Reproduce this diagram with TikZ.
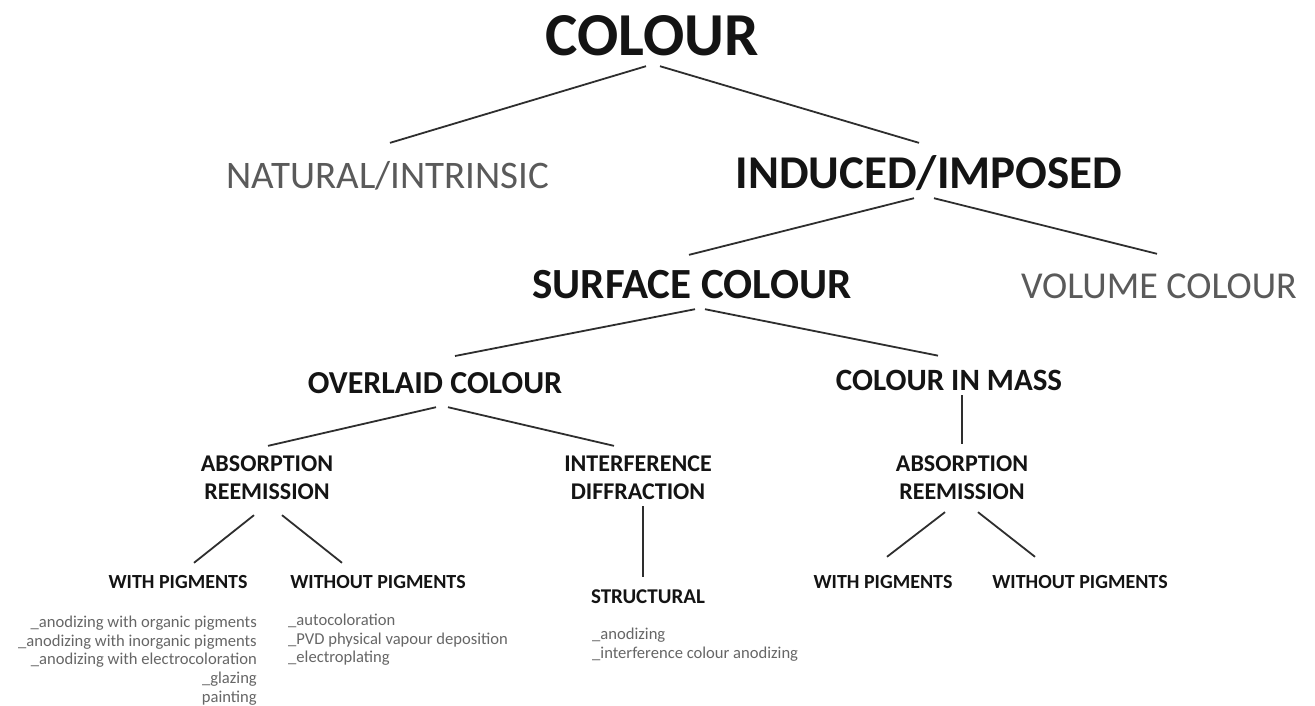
\documentclass[tikz,border=0pt]{standalone}
\usepackage{fontspec}
\setmainfont{Carlito}
\usepackage{tikz}
\usetikzlibrary{positioning}
\definecolor{inkdark}{HTML}{141414}
\definecolor{inkthin}{HTML}{5A5A5A}
\definecolor{inklist}{HTML}{666666}
\definecolor{inkline}{HTML}{2E2E2E}
\tikzset{
  treelbl/.style={inner sep=0pt,anchor=base,text=inkdark,text depth=0pt},
  boldlbl/.style={treelbl,font=\fontsize{#1}{#1}\selectfont\bfseries,text height=0.65*#1pt},
  thinlbl/.style={treelbl,font=\fontsize{#1}{#1}\selectfont,text=inkthin,text height=0.65*#1pt},
  pairlbl/.style={inner sep=0pt,align=center,text=inkdark,font=\fontsize{24}{28}\selectfont\bfseries},
  listlbl/.style={inner sep=0pt,text=inklist,font=\fontsize{16.6}{18.6}\selectfont},
  branch/.style={draw=inkline,line width=1.8pt}
}

\begin{document}
\begin{tikzpicture}[x=1pt,y=-1pt]
\useasboundingbox[fill=white] (0,0) rectangle (1315,705);
\node[boldlbl=61] (colour) at (652,55) {COLOUR};
\node[thinlbl=39] (natural) at (388,188) {NATURAL/INTRINSIC};
\node[boldlbl=47] (induced) at (929,188) {INDUCED/IMPOSED};
\node[boldlbl=43] (surface) at (692,298) {SURFACE COLOUR};
\node[thinlbl=38] (volume) at (1159,298) {VOLUME COLOUR};
\node[boldlbl=32] (overlaid) at (435,393) {OVERLAID COLOUR};
\node[boldlbl=31] (mass) at (949,390) {COLOUR IN MASS};
\node[pairlbl] (absleft) at (267,478) {ABSORPTION\\REEMISSION};
\node[pairlbl] (interf) at (638,478) {INTERFERENCE\\DIFFRACTION};
\node[pairlbl] (absright) at (962,478) {ABSORPTION\\REEMISSION};
\node[boldlbl=20] (withleft) at (178,588) {WITH PIGMENTS};
\node[boldlbl=20] (withoutleft) at (378,588) {WITHOUT PIGMENTS};
\node[boldlbl=21] (structural) at (648,603) {STRUCTURAL};
\node[boldlbl=20] (withright) at (883,588) {WITH PIGMENTS};
\node[boldlbl=20] (withoutright) at (1080,588) {WITHOUT PIGMENTS};
% lists under the leaves
\node[listlbl,align=right,anchor=north east] (listwith) at (257,616)
  {\_anodizing with organic pigments\\\_anodizing with inorganic pigments\\\_anodizing with electrocoloration\\\_glazing\\painting};
\node[listlbl,align=left,anchor=north west] (listwithout) at (288,614)
  {\_autocoloration\\\_PVD physical vapour deposition\\\_electroplating};
\node[listlbl,align=left,anchor=north west] (liststruct) at (592,628)
  {\_anodizing\\\_interference colour anodizing};
% branches
\draw[branch] ([xshift=-6pt,yshift=-11pt]colour.south) -- ([xshift=2pt,yshift=19.6pt]natural.north);
\draw[branch] ([xshift=8pt,yshift=-11pt]colour.south) -- ([xshift=-10pt,yshift=14.4pt]induced.north);
\draw[branch] ([xshift=-15pt,yshift=-10pt]induced.south) -- ([xshift=-3pt,yshift=15pt]surface.north);
\draw[branch] ([xshift=5pt,yshift=-10pt]induced.south) -- ([xshift=-2pt,yshift=19.3pt]volume.north);
\draw[branch] ([xshift=3pt,yshift=-11pt]surface.south) -- ([xshift=20pt,yshift=16pt]overlaid.north);
\draw[branch] ([xshift=13pt,yshift=-11pt]surface.south) -- ([xshift=-11pt,yshift=14pt]mass.north);
\draw[branch] ([xshift=1pt,yshift=-14pt]overlaid.south) -- ([xshift=1pt,yshift=10pt]absleft.north);
\draw[branch] ([xshift=13pt,yshift=-14pt]overlaid.south) -- ([xshift=-24pt,yshift=10pt]interf.north);
\draw[branch] ([xshift=13pt,yshift=-5pt]mass.south) -- ([yshift=12pt]absright.north);
\draw[branch] ([xshift=-13pt,yshift=-15pt]absleft.south) -- ([xshift=16pt,yshift=12pt]withleft.north);
\draw[branch] ([xshift=15pt,yshift=-15pt]absleft.south) -- ([xshift=-36pt,yshift=12pt]withoutleft.north);
\draw[branch] ([xshift=5pt,yshift=-6pt]interf.south) -- ([xshift=-5pt,yshift=12.4pt]structural.north);
\draw[branch] ([xshift=-17pt,yshift=-12pt]absright.south) -- ([xshift=4pt,yshift=18pt]withright.north);
\draw[branch] ([xshift=16pt,yshift=-12pt]absright.south) -- ([xshift=-45pt,yshift=18pt]withoutright.north);
\end{tikzpicture}
\end{document}
